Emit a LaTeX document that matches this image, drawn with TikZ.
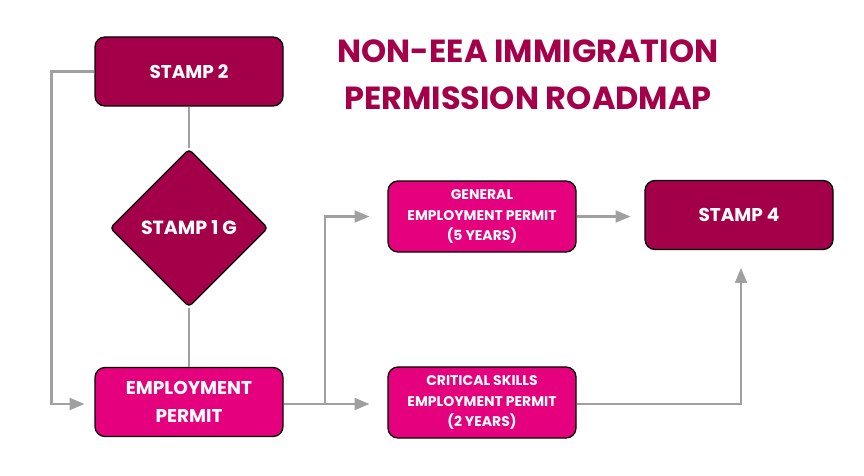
\documentclass[tikz,border=0pt]{standalone}
\usepackage{fontspec}
\setmainfont{Poppins}
\usepackage{tikz}
\usetikzlibrary{arrows,shapes.geometric,positioning,calc}

\definecolor{stampred}{HTML}{A4004A}
\definecolor{permitpink}{HTML}{E5007D}
\definecolor{linegray}{HTML}{A0A0A0}

\begin{document}
\begin{tikzpicture}[x=1pt, y=-1pt, >=triangle 45, line width=2.5pt]
\tikzstyle{box}=[draw=black,line width=1.3pt,rounded corners=10pt,text=white,align=center,
    minimum width=188pt,minimum height=69pt,inner sep=2pt]
\tikzstyle{darkbox}=[box,fill=stampred,font=\bfseries\fontsize{18.5}{28}\selectfont]
\tikzstyle{pinkbox}=[box,fill=permitpink,font=\bfseries\fontsize{18.5}{28}\selectfont]
\tikzstyle{smallbox}=[box,fill=permitpink,minimum height=71pt,font=\bfseries\fontsize{14}{20.5}\selectfont]
\tikzstyle{decision}=[diamond,aspect=1,draw=black,line width=1.3pt,rounded corners=4pt,fill=stampred,
    text=white,minimum width=158pt,minimum height=158pt,inner sep=0pt,font=\bfseries\fontsize{19}{20}\selectfont]
\tikzstyle{link}=[draw=linegray,line width=2.5pt]
\useasboundingbox (0,0) rectangle (864,476);

\node[darkbox]   (s2)  at (189,71.5) {STAMP 2};
\node[decision]  (s1g) at (189,228)  {STAMP 1 G};
\node[pinkbox]   (ep)  at (189,402)  {EMPLOYMENT\\PERMIT};
\node[smallbox]  (gep) at (482,216.5) {GENERAL\\EMPLOYMENT PERMIT\\(5 YEARS)};
\node[smallbox]  (cs)  at (482,402.5) {CRITICAL SKILLS\\EMPLOYMENT PERMIT\\(2 YEARS)};
\node[darkbox]   (s4)  at (739,215)  {STAMP 4};
\node[text=stampred,align=center,font=\bfseries\fontsize{32}{47}\selectfont] (title) at (528,75)
    {NON-EEA IMMIGRATION\\PERMISSION ROADMAP};

\coordinate (split) at (325,404);

\path[link]
(s2.south) edge (s1g.north)
(s1g.south) edge (ep.north);
\draw[link,->,shorten >=10pt] (s2.west) -- ++(-43,0) |- ([yshift=-2]ep.west);
\draw[link,->,shorten >=18pt] ([yshift=-2]ep.east) -- ([yshift=-1.5]cs.west);
\draw[link,->,shorten >=18pt] (split) |- (gep.west);
\draw[link,->,shorten >=14pt] (gep.east) -- (gep.east -| s4.west);
\draw[link,->,shorten >=18pt] ([yshift=-1.5]cs.east) -| ([xshift=2]s4.south);
\end{tikzpicture}
\end{document}
